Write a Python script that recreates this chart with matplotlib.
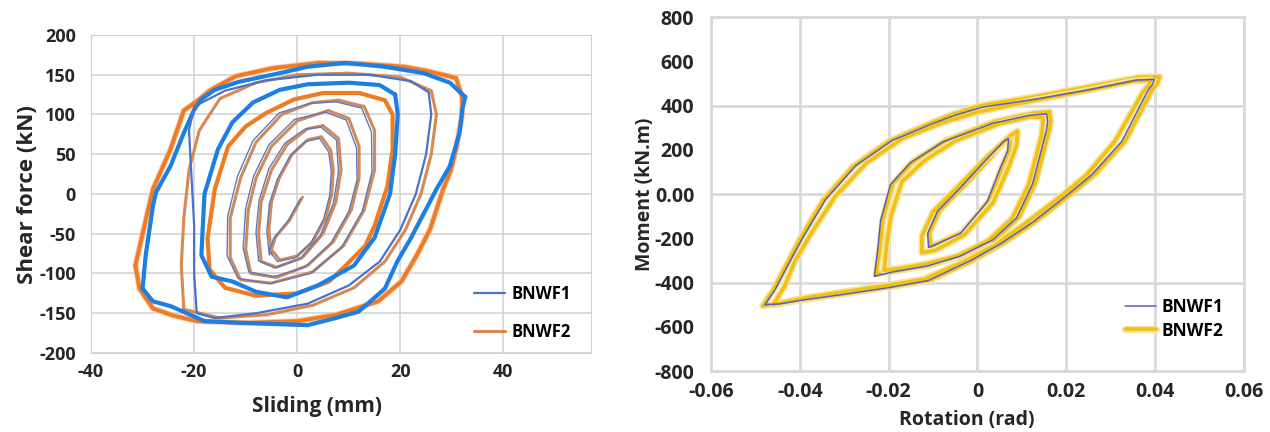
import matplotlib
matplotlib.use("Agg")
import matplotlib.pyplot as plt
import matplotlib.patheffects as pe

plt.rcParams['font.family'] = ['Open Sans', 'DejaVu Sans']
plt.rcParams['axes.unicode_minus'] = False
plt.rcParams['lines.solid_joinstyle'] = 'round'
plt.rcParams['lines.solid_capstyle'] = 'round'

# ---------------- left panel: shear force vs sliding ----------------
# BNWF1 loops (mm, kN)
b1_outer_x = [32.6, 29.6, 24.5, 17, 9.4, 2, -3.4, -11.4, -16, -18.6, -20, -22, -24.6, -27.4, -28, -29.4,
              -30, -28, -24.6, -20, -18, -11.4, 2, 7.5, 11.9, 17, 19.4, 22, 25, 27, 29.6, 31.5, 32, 32.6]
b1_outer_y = [122, 140, 152, 160, 165, 160, 152, 141, 131, 119, 106, 77, 35, 2, -15, -77,
              -119, -135, -141, -154, -160, -162, -165, -156, -148, -119, -85, -56, -19, 6, 35, 77, 106, 122]
b1_mid_x = [19, 19.5, 19, 18, 15, 11, 4, -2, -8, -12.6, -16.6, -18.6, -18, -15.4, -12.6, -8.6, -3.4, 2, 10, 16, 19]
b1_mid_y = [125, 100, 50, 0, -55, -90, -115, -130, -123, -110, -104, -77, 0, 56, 90, 115, 131, 138, 140, 137, 125]
b1_c_x = [-20, -14, -6, 4, 14, 22, 25.5, 26, 25, 23, 20, 16, 10, 2, -8, -16, -19.5, -20, -20, -20.5, -21, -20]
b1_c_y = [110, 130, 143, 150, 150, 142, 128, 100, 50, 0, -45, -85, -115, -138, -150, -156, -150, -100, -40, 20, 80, 110]
b1_in4_x = [7.5, 12.5, 14.4, 14.5, 12.6, 8.5, 2.5, -5.5, -11.5, -13.6, -13.5, -11.6, -8.6, -3.5, 2.5, 7.5]
b1_in4_y = [116, 108, 78, 28, -22, -68, -100, -113, -106, -78, -28, 22, 67, 102, 114, 116]
b1_in3_x = [5.5, 9.5, 11.5, 11.6, 10, 6.5, 1.5, -4.5, -9.4, -10.5, -10, -8.5, -5.5, -0.5, 5.5]
b1_in3_y = [103, 93, 58, 18, -22, -62, -92, -104, -98, -68, -18, 22, 62, 94, 103]
b1_in2_x = [4.6, 7.6, 8.0, 7.0, 4.5, 0.5, -4.4, -7.5, -8.0, -7.4, -5.5, -2.4, 1.6, 4.6]
b1_in2_y = [84, 68, 28, -12, -52, -82, -93, -84, -48, -8, 32, 64, 82, 84]
b1_in1_x = [0.6, -1.9, -4.6, -5.4, -3.8, -0.4, 2.6, 5.1, 6.3, 6.6, 6.1, 4.3, 1.6, -1.4, -3.9, -5.4, -5.9, -5.4]
b1_in1_y = [-6, -35, -56, -72, -85, -80, -62, -32, -2, 28, 53, 70, 66, 48, 18, -12, -47, -77]

# BNWF2 loops (mm, kN)
b2_outer_x = [32, 30.8, 25, 20.8, 12, 4.3, -5, -12, -17, -19.4, -22, -24.6, -28, -30, -31.4, -30.6, -28, -24,
              -19.4, -10, 0, 7.5, 15.7, 20.2, 23.2, 25.8, 28.3, 29.8, 30.8, 32, 32]
b2_outer_y = [122, 146, 155, 160, 164, 165, 158, 148, 130, 117, 105, 56, 6, -50, -90, -119, -144, -153,
              -160, -162, -160, -152, -135, -110, -77, -44, 6, 30, 56, 100, 122]
b2_mid_x = [12, 17, 18.5, 18.5, 17.5, 15, 13.2, 9.4, 6.2, 0, -8, -14, -17, -17.4, -16, -13.4, -10, -6, -0.6, 5, 12]
b2_mid_y = [127, 118, 100, 56, 10, -40, -65, -90, -110, -125, -128, -118, -95, -56, 6, 60, 85, 102, 119, 127, 127]
b2_c_x = [-22, -22.5, -22, -21, -19, -15, -8, 0, 10, 20, 26, 27, 26, 24, 21, 17, 11, 3, -6, -15, -22]
b2_c_y = [-145, -90, -30, 30, 80, 120, 140, 150, 152, 147, 130, 100, 50, 0, -45, -85, -118, -140, -152, -156, -145]
b2_in4_x = [8, 13, 15, 15, 13, 9, 3, -5, -11, -13, -13, -11, -8, -3, 3, 8]
b2_in4_y = [118, 110, 80, 30, -20, -65, -98, -112, -108, -80, -30, 20, 65, 100, 115, 118]
b2_in3_x = [6, 10, 12, 12, 10.5, 7, 2, -4, -9, -10, -9.5, -8, -5, 0, 6]
b2_in3_y = [105, 95, 60, 20, -20, -60, -90, -105, -100, -70, -20, 20, 60, 92, 105]
b2_in2_x = [5, 8, 8.5, 7.5, 5, 1, -4, -7, -7.5, -7, -5, -2, 2, 5]
b2_in2_y = [86, 70, 30, -10, -50, -80, -92, -85, -50, -10, 30, 62, 82, 86]
b2_in1_x = [1, -1.5, -4.2, -5, -3.4, 0, 3, 5.5, 6.7, 7, 6.5, 4.7, 2, -1, -3.5, -5, -5.5, -5]
b2_in1_y = [-4, -33, -54, -70, -83, -78, -60, -30, 0, 30, 55, 72, 68, 50, 20, -10, -45, -75]

# ---------------- right panel: moment vs rotation ----------------
# BNWF1 loops (rad, kN.m)
r1_outer_x = [-0.0478, -0.0455, -0.0425, -0.0394, -0.0342, -0.0274, -0.0192, -0.0102, -0.005, 0.001, 0.0135,
              0.0248, 0.0358, 0.0398, 0.0394, 0.0383, 0.0325, 0.0258, 0.0200, 0.0124, 0.0050, -0.0016,
              -0.0112, -0.0202, -0.0306, -0.0395, -0.0446, -0.0478]
r1_outer_y = [-500, -430, -315, -200, -25, 128, 242, 318, 356, 392, 430, 470, 515, 518, 495, 465, 238, 88,
              -8, -128, -228, -302, -392, -424, -455, -480, -497, -500]
r1_mid_x = [-0.0232, -0.0225, -0.0218, -0.0196, -0.0152, -0.0078, 0.0035, 0.0118, 0.0156, 0.0158, 0.0155,
            0.0124, 0.0088, 0.0034, -0.004, -0.0114, -0.019, -0.0232]
r1_mid_y = [-372, -260, -120, 42, 140, 235, 320, 356, 362, 325, 285, 45, -108, -208, -282, -326, -352, -372]
r1_in_x = [-0.011, -0.0112, -0.009, -0.004, 0.002, 0.006, 0.007, 0.0068, 0.0052, 0.0022, -0.0038, -0.0105, -0.011]
r1_in_y = [-240, -178, -78, 25, 155, 240, 250, 195, 120, -34, -178, -238, -240]

# BNWF2 loops (rad, kN.m)
r2_outer_x = [-0.0483, -0.046, -0.043, -0.040, -0.0348, -0.028, -0.0198, -0.0108, -0.0056, 0.0004, 0.013,
              0.0243, 0.0364, 0.041, 0.0405, 0.0393, 0.0333, 0.0265, 0.0207, 0.013, 0.0056, -0.001,
              -0.0108, -0.0198, -0.0303, -0.0393, -0.0445, -0.0483]
r2_outer_y = [-505, -435, -320, -205, -30, 125, 240, 318, 360, 398, 440, 482, 528, 530, 500, 470, 240, 90,
              -5, -125, -225, -300, -390, -420, -452, -478, -496, -505]
r2_outer2_x = [-0.046, -0.0435, -0.041, -0.0375, -0.032, -0.025, -0.017, -0.008, 0.0, 0.012, 0.024, 0.035,
               0.039, 0.0385, 0.0372, 0.031, 0.0245, 0.0188, 0.011, 0.004, -0.003, -0.012, -0.021, -0.031,
               -0.039, -0.046]
r2_outer2_y = [-500, -420, -300, -180, -10, 140, 250, 322, 370, 420, 465, 510, 515, 490, 460, 240, 85, -10,
               -130, -230, -305, -385, -415, -445, -470, -500]
r2_mid_x = [-0.0228, -0.022, -0.0213, -0.019, -0.0146, -0.0072, 0.004, 0.0125, 0.0162, 0.0165, 0.0162,
            0.013, 0.0094, 0.004, -0.0034, -0.0108, -0.0184, -0.0228]
r2_mid_y = [-360, -250, -115, 48, 145, 241, 328, 365, 372, 330, 290, 48, -104, -204, -278, -322, -348, -360]
r2_mid2_x = [-0.021, -0.0205, -0.0195, -0.017, -0.012, -0.005, 0.005, 0.012, 0.0148, 0.0145, 0.0115,
             0.0078, 0.0025, -0.0045, -0.012, -0.018, -0.021]
r2_mid2_y = [-345, -240, -100, 55, 150, 240, 318, 350, 345, 270, 40, -110, -210, -280, -318, -338, -345]
r2_in_x = [-0.0105, -0.0108, -0.0085, -0.0034, 0.0027, 0.0065, 0.0075, 0.0072, 0.0056, 0.0027, -0.0034, -0.0101, -0.0105]
r2_in_y = [-235, -174, -74, 29, 159, 245, 255, 200, 125, -30, -174, -235, -235]
r2_in2_x = [-0.0125, -0.0125, -0.010, -0.0045, 0.002, 0.0075, 0.009, 0.0088, 0.007, 0.0035, -0.003, -0.0095, -0.0125]
r2_in2_y = [-265, -190, -80, 30, 165, 265, 285, 220, 120, -40, -185, -255, -265]

left_xticks = [-40, -20, 0, 20, 40]
left_yticks = [-200, -150, -100, -50, 0, 50, 100, 150, 200]
right_xticks = [-0.06, -0.04, -0.02, 0, 0.02, 0.04, 0.06]
right_xlabels = ['-0.06', '-0.04', '-0.02', '0', '0.02', '0.04', '0.06']
right_yticks = [-800, -600, -400, -200, 0, 200, 400, 600, 800]
right_ylabels = ['-800', '-600', '-400', '-200', '0.00', '200', '400', '600', '800']

TXT = '#262626'
GRID = '#d0d0d0'

fig = plt.figure(figsize=(12.7, 4.32), dpi=100)

# -------- left panel --------
ax1 = fig.add_axes([0.0717, 0.1829, 0.3937, 0.7361])
halo = [pe.Stroke(linewidth=4.2, foreground='#f6c9a6'), pe.Normal()]
# BNWF2 (orange) drawn first
ax1.plot(b2_outer_x, b2_outer_y, color='#ef7b27', lw=2.8, zorder=2, path_effects=halo)
ax1.plot(b2_c_x, b2_c_y, color='#d98852', lw=2.2, zorder=2, label='BNWF2')
ax1.plot(b2_mid_x, b2_mid_y, color='#f07c22', lw=3.0, zorder=2)
for xs, ys in [(b2_in4_x, b2_in4_y), (b2_in3_x, b2_in3_y), (b2_in2_x, b2_in2_y), (b2_in1_x, b2_in1_y)]:
    ax1.plot(xs, ys, color='#cb8a5f', lw=2.2, zorder=2)
# BNWF1 (blue) on top
ax1.plot(b1_outer_x, b1_outer_y, color='#1c7fe3', lw=3.0, zorder=3)
ax1.plot(b1_c_x, b1_c_y, color='#4a72c6', lw=1.6, zorder=3, label='BNWF1')
ax1.plot(b1_mid_x, b1_mid_y, color='#1c7fe3', lw=3.0, zorder=3)
for xs, ys in [(b1_in4_x, b1_in4_y), (b1_in3_x, b1_in3_y), (b1_in2_x, b1_in2_y), (b1_in1_x, b1_in1_y)]:
    ax1.plot(xs, ys, color='#6478b4', lw=1.0, zorder=3)

ax1.set_xlim(-40, 57)
ax1.set_ylim(-200, 200)
ax1.set_xticks(left_xticks)
ax1.set_yticks(left_yticks)
ax1.grid(True, color=GRID, lw=1.1)
ax1.set_axisbelow(True)
ax1.tick_params(length=0, labelsize=13, colors=TXT)
ax1.tick_params(axis='y', pad=11)
ax1.tick_params(axis='x', pad=7)
for lab in ax1.get_xticklabels() + ax1.get_yticklabels():
    lab.set_fontweight('bold')
for sp in ax1.spines.values():
    sp.set_color(GRID)
h, l = ax1.get_legend_handles_labels()
ax1.legend(h[::-1], l[::-1], loc='center left', bbox_to_anchor=(0.765, 0.127), frameon=False,
           borderpad=0, borderaxespad=0, handlelength=1.9, handletextpad=0.4, labelspacing=1.2,
           prop={'weight': 'bold', 'size': 12})
fig.text(0.022, 0.549, 'Shear force (kN)', rotation=90, ha='center', va='center',
         fontsize=16, fontweight='bold', color=TXT)
fig.text(0.250, 0.058, 'Sliding (mm)', ha='center', va='center', fontsize=15, fontweight='bold', color=TXT)

# -------- right panel --------
ax2 = fig.add_axes([0.5598, 0.1412, 0.4197, 0.8194])
glow = [pe.Stroke(linewidth=5, foreground='#f1e4a8'), pe.Normal()]
ax2.plot(r2_outer_x, r2_outer_y, color='#f3c10e', lw=2.6, zorder=2, path_effects=glow, label='BNWF2')
for xs, ys in [(r2_outer2_x, r2_outer2_y), (r2_mid_x, r2_mid_y), (r2_mid2_x, r2_mid2_y),
               (r2_in_x, r2_in_y), (r2_in2_x, r2_in2_y)]:
    ax2.plot(xs, ys, color='#f3c10e', lw=2.6, zorder=2, path_effects=glow)
# BNWF1 thin lines on top of the gold
ax2.plot(r1_outer_x, r1_outer_y, color='#5b5fb3', lw=1.1, zorder=3, label='BNWF1')
ax2.plot(r1_mid_x, r1_mid_y, color='#5b5fb3', lw=1.1, zorder=3)
ax2.plot(r1_in_x, r1_in_y, color='#5b5fb3', lw=1.1, zorder=3)

ax2.set_xlim(-0.06, 0.06)
ax2.set_ylim(-800, 800)
ax2.set_xticks(right_xticks)
ax2.set_xticklabels(right_xlabels)
ax2.set_yticks(right_yticks)
ax2.set_yticklabels(right_ylabels)
ax2.grid(False)
for v in right_xticks:
    ax2.axvline(v, color='#d9d9d9', lw=2, zorder=0)
for v in right_yticks[::2]:
    ax2.axhline(v, color='#d9d9d9', lw=2, zorder=0)
ax2.tick_params(length=0, labelsize=14, colors=TXT)
ax2.tick_params(axis='y', pad=12)
ax2.tick_params(axis='x', pad=8)
for lab in ax2.get_xticklabels() + ax2.get_yticklabels():
    lab.set_fontweight('bold')
for sp in ax2.spines.values():
    sp.set_color('#d9d9d9')
    sp.set_linewidth(2)
h, l = ax2.get_legend_handles_labels()
ax2.legend(h[::-1], l[::-1], loc='center left', bbox_to_anchor=(0.777, 0.147), frameon=False,
           borderpad=0, borderaxespad=0, handlelength=1.8, handletextpad=0.3, labelspacing=0.3,
           prop={'weight': 'bold', 'size': 12.5})
fig.text(0.508, 0.551, 'Moment (kN.m)', rotation=90, ha='center', va='center',
         fontsize=14, fontweight='bold', color=TXT)
fig.text(0.761, 0.027, 'Rotation (rad)', ha='center', va='center', fontsize=14, fontweight='bold', color=TXT)

fig.savefig('out.png', dpi=100, facecolor='white')
